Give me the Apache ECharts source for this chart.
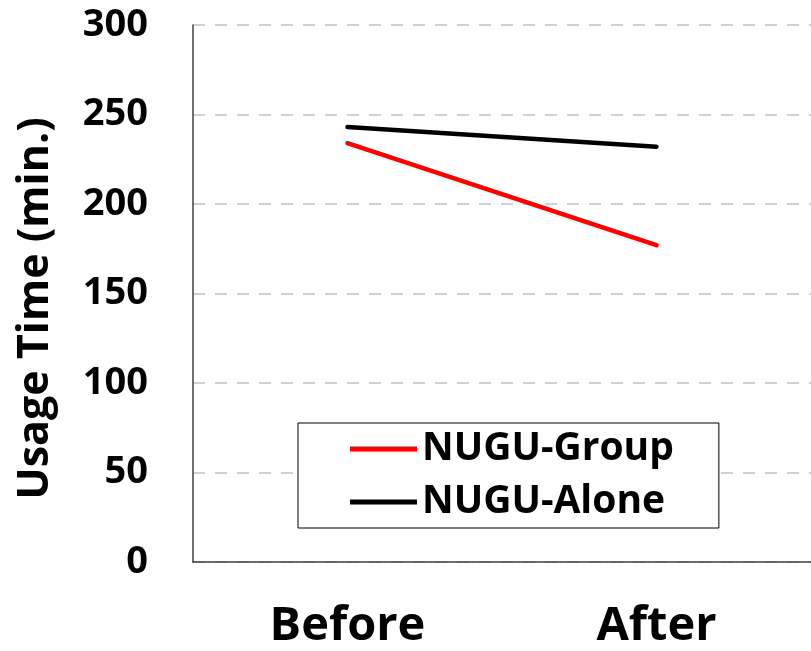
<!DOCTYPE html>
<html>
<head>
<meta charset="utf-8">
<script src="https://cdn.jsdelivr.net/npm/echarts@6/dist/echarts.min.js"></script>
<style>
html,body{margin:0;padding:0;background:#fff;}
#chart{width:811px;height:651px;}
</style>
</head>
<body>
<div id="chart"></div>
<script>
var categories = ['Before', 'After'];
var groupValues = [234, 177];
var aloneValues = [243, 232];
var seriesNames = ['NUGU-Group', 'NUGU-Alone'];
var yTitle = 'Usage Time (min.)';

var FONT = 'Open Sans';
var chart = echarts.init(document.getElementById('chart'), null, {renderer: 'canvas'});
chart.setOption({
  animation: false,
  backgroundColor: '#ffffff',
  grid: {left: 193, top: 25, width: 624, height: 537, containLabel: false},
  legend: {
    orient: 'vertical',
    left: 298,
    top: 423,
    data: seriesNames,
    icon: 'rect',
    itemWidth: 67,
    itemHeight: 5,
    itemGap: 13,
    padding: [6, 45, 6, 52],
    backgroundColor: '#ffffff',
    borderColor: '#000000',
    borderWidth: 1,
    borderRadius: 0,
    textStyle: {fontFamily: FONT, fontWeight: 'bold', fontSize: 39, color: '#000', lineHeight: 40}
  },
  xAxis: {
    type: 'category',
    data: categories,
    boundaryGap: true,
    axisLine: {show: true, lineStyle: {color: '#404040', width: 1.5}},
    axisTick: {show: false},
    axisLabel: {fontFamily: FONT, fontWeight: 'bold', fontSize: 47, color: '#000', margin: 41},
    splitLine: {show: false}
  },
  yAxis: {
    type: 'value',
    min: 0,
    max: 300,
    interval: 50,
    name: yTitle,
    nameLocation: 'middle',
    nameRotate: 90,
    nameGap: 136,
    nameTextStyle: {fontFamily: FONT, fontWeight: 'bold', fontSize: 43, color: '#000', padding: [0, 30, 0, 0]},
    axisLine: {show: true, lineStyle: {color: '#404040', width: 1.5}},
    axisTick: {show: false},
    axisLabel: {fontFamily: FONT, fontWeight: 'bold', fontSize: 38, color: '#000', margin: 45},
    splitLine: {show: true, lineStyle: {color: '#d0d0d0', width: 2, type: [12, 10]}}
  },
  series: [
    {
      name: seriesNames[0],
      type: 'line',
      data: groupValues,
      symbol: 'none',
      itemStyle: {color: '#ff0000'},
      lineStyle: {color: '#ff0000', width: 4.5, cap: 'round'}
    },
    {
      name: seriesNames[1],
      type: 'line',
      data: aloneValues,
      symbol: 'none',
      itemStyle: {color: '#000000'},
      lineStyle: {color: '#000000', width: 4.5, cap: 'round'}
    }
  ]
});
</script>
</body>
</html>
